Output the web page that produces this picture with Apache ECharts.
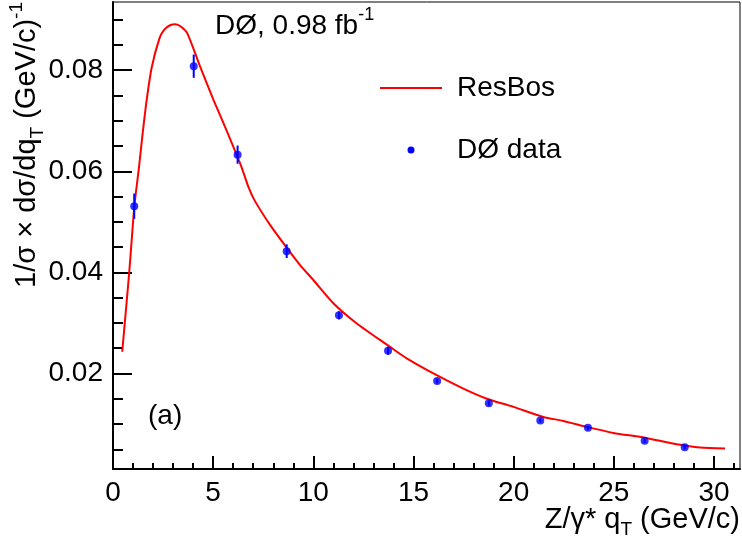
<!DOCTYPE html>
<html>
<head>
<meta charset="utf-8">
<script src="https://cdn.jsdelivr.net/npm/echarts@6/dist/echarts.min.js"></script>
<style>
html,body{margin:0;padding:0;background:#fff;}
#chart{width:742px;height:542px;}
</style>
</head>
<body>
<div id="chart"></div>
<script>
// ---- data ----
const dataX = [1.06, 4.03, 6.22, 8.67, 11.28, 13.73, 16.18, 18.76, 21.33, 23.71, 26.54, 28.54];
const dataY = [0.0531, 0.0808, 0.0633, 0.0442, 0.0315, 0.0245, 0.0185, 0.0141, 0.0107, 0.00925, 0.00668, 0.00538];
const dataErr = [0.0025, 0.0023, 0.0018, 0.00135, 0.0008, 0.0008, 0.0005, 0.0005, 0.0004, 0.0004, 0.0004, 0.0004];

const curveX = [0.46, 0.81, 1.07, 1.30, 1.48, 1.68, 1.93, 2.31, 2.55, 2.85, 3.11, 3.40, 3.71, 4.34, 5.01, 5.73, 6.42, 6.76, 7.06, 7.84, 8.67, 9.34, 10.0, 11.0, 12.17, 13.83, 14.66, 16.16, 17.49, 18.66, 19.99, 21.48, 22.48, 23.65, 24.98, 26.48, 28.14, 29.31, 30.55];
const curveY = [0.0243, 0.0400, 0.0532, 0.0609, 0.0675, 0.0741, 0.0805, 0.0862, 0.0880, 0.0889, 0.0891, 0.0886, 0.0873, 0.0808, 0.0742, 0.0675, 0.0608, 0.0569, 0.0543, 0.0494, 0.0449, 0.04145, 0.0385, 0.0339, 0.0299, 0.02527, 0.0230, 0.01966, 0.0170, 0.0150, 0.01339, 0.0114, 0.01061, 0.00943, 0.00824, 0.00733, 0.0060, 0.00535, 0.00515];

const xMajor = [0, 5, 10, 15, 20, 25, 30];
const xMinor = [0,1,2,3,4,5,6,7,8,9,10,11,12,13,14,15,16,17,18,19,20,21,22,23,24,25,26,27,28,29,30,31];
const yMajor = [0.02, 0.04, 0.06, 0.08];
const yMinor = [0.005, 0.01, 0.015, 0.02, 0.025, 0.03, 0.035, 0.04, 0.045, 0.05, 0.055, 0.06, 0.065, 0.07, 0.075, 0.08, 0.085, 0.09];

const X_MIN = 0, X_MAX = 31.3, Y_MIN = 0.0011, Y_MAX = 0.0935;
const FONT = '"Liberation Sans", Helvetica, Arial, sans-serif';
const FS = 28;
const FT = 29;

const chart = echarts.init(document.getElementById('chart'), null, {renderer: 'canvas'});

const baseAxisLabel = {color: '#000', fontFamily: FONT, fontSize: FS};

const option = {
  animation: false,
  backgroundColor: '#fff',
  grid: {left: 113, right: 2, top: 2, bottom: 73, show: true, borderColor: '#000', borderWidth: 1, outerBoundsMode: 'none', containLabel: false},
  xAxis: [
    {type: 'value', min: X_MIN, max: X_MAX, position: 'bottom',
     axisLine: {show: true, onZero: false, lineStyle: {color: '#000', width: 2}},
     axisTick: {show: true, inside: true, length: 13, customValues: xMajor, lineStyle: {color: '#000', width: 2}},
     axisLabel: Object.assign({customValues: xMajor, margin: 10, formatter: v => String(v)}, baseAxisLabel),
     splitLine: {show: false}},
    {type: 'value', min: X_MIN, max: X_MAX, position: 'bottom',
     axisLine: {show: false, onZero: false},
     axisTick: {show: true, inside: true, length: 6, customValues: xMinor, lineStyle: {color: '#000', width: 2}},
     axisLabel: {show: false},
     splitLine: {show: false}}
  ],
  yAxis: [
    {type: 'value', min: Y_MIN, max: Y_MAX, position: 'left',
     axisLine: {show: true, onZero: false, lineStyle: {color: '#000', width: 2}},
     axisTick: {show: true, inside: true, length: 19, customValues: yMajor, lineStyle: {color: '#000', width: 2}},
     axisLabel: Object.assign({customValues: yMajor, margin: 10, formatter: v => v.toFixed(2)}, baseAxisLabel),
     splitLine: {show: false}},
    {type: 'value', min: Y_MIN, max: Y_MAX, position: 'left',
     axisLine: {show: false, onZero: false},
     axisTick: {show: true, inside: true, length: 10, customValues: yMinor, lineStyle: {color: '#000', width: 2}},
     axisLabel: {show: false},
     splitLine: {show: false}}
  ],
  legend: {
    orient: 'vertical', left: 380, top: 72, itemGap: 30, padding: 0,
    itemWidth: 62, itemHeight: 7, symbolKeepAspect: true,
    textStyle: {color: '#000', fontFamily: FONT, fontSize: FS, lineHeight: 32, padding: [0, 0, 0, 10]},
    data: [
      {name: 'ResBos', icon: 'path://M0 0H62V2H0Z', itemStyle: {color: '#ff0000', borderWidth: 0}},
      {name: 'DØ data', icon: 'circle', itemStyle: {color: '#0000ff', borderWidth: 0}}
    ]
  },
  series: [
    {name: 'ResBos', type: 'line', xAxisIndex: 0, yAxisIndex: 0,
     data: curveX.map((x, i) => [x, curveY[i]]),
     symbol: 'none', smooth: 0.25, lineStyle: {color: '#ff0000', width: 2}, itemStyle: {color: '#ff0000'}, z: 2},
    {name: 'DØ data', type: 'custom', xAxisIndex: 0, yAxisIndex: 0,
     data: dataX.map((x, i) => [x, dataY[i] - dataErr[i], dataY[i] + dataErr[i]]),
     renderItem: function (params, api) {
       const lo = api.coord([api.value(0), api.value(1)]);
       const hi = api.coord([api.value(0), api.value(2)]);
       return {type: 'line', shape: {x1: lo[0], y1: lo[1], x2: hi[0], y2: hi[1]}, style: {stroke: '#0000ff', lineWidth: 2}};
     },
     itemStyle: {color: '#0000ff'}, z: 3, silent: true},
    {name: 'DØ data', type: 'scatter', xAxisIndex: 0, yAxisIndex: 0,
     data: dataX.map((x, i) => [x, dataY[i]]),
     symbol: 'circle', symbolSize: 8, itemStyle: {color: '#0000ff'}, z: 4}
  ],
  graphic: [
    {type: 'text', left: 215, top: 6, z: 10,
     style: {text: '{a|DØ, 0.98 fb}{p|-1}', fontFamily: FONT,
       rich: {a: {fontSize: FS, fontFamily: FONT, lineHeight: 40, verticalAlign: 'middle', fill: '#000'},
              p: {fontSize: 18, fontFamily: FONT, lineHeight: 18, verticalAlign: 'top', fill: '#000'}}}},
    {type: 'text', left: 148, top: 402, z: 10,
     style: {text: '(a)', fontFamily: FONT, fontSize: FS, fill: '#000'}},
    {type: 'text', right: 2, top: 505, z: 10,
     style: {text: '{a|Z/γ* q}{s|T}{a| (GeV/c)}', fontFamily: FONT,
       rich: {a: {fontSize: FT, fontFamily: FONT, lineHeight: 40, verticalAlign: 'middle', fill: '#000'},
              s: {fontSize: 19, fontFamily: FONT, lineHeight: 18, verticalAlign: 'bottom', fill: '#000'}}}},
    {type: 'text', x: 27, y: 2, rotation: Math.PI / 2, z: 10,
     style: {text: '{a|1/σ × dσ/dq}{s|T}{a| (GeV/c)}{p|-1}', fontFamily: FONT, align: 'right', verticalAlign: 'middle',
       rich: {a: {fontSize: FT, fontFamily: FONT, lineHeight: 40, verticalAlign: 'middle', fill: '#000'},
              s: {fontSize: 19, fontFamily: FONT, lineHeight: 18, verticalAlign: 'bottom', fill: '#000'},
              p: {fontSize: 19, fontFamily: FONT, lineHeight: 18, verticalAlign: 'top', fill: '#000'}}}}
  ]
};
chart.setOption(option);
</script>
</body>
</html>
